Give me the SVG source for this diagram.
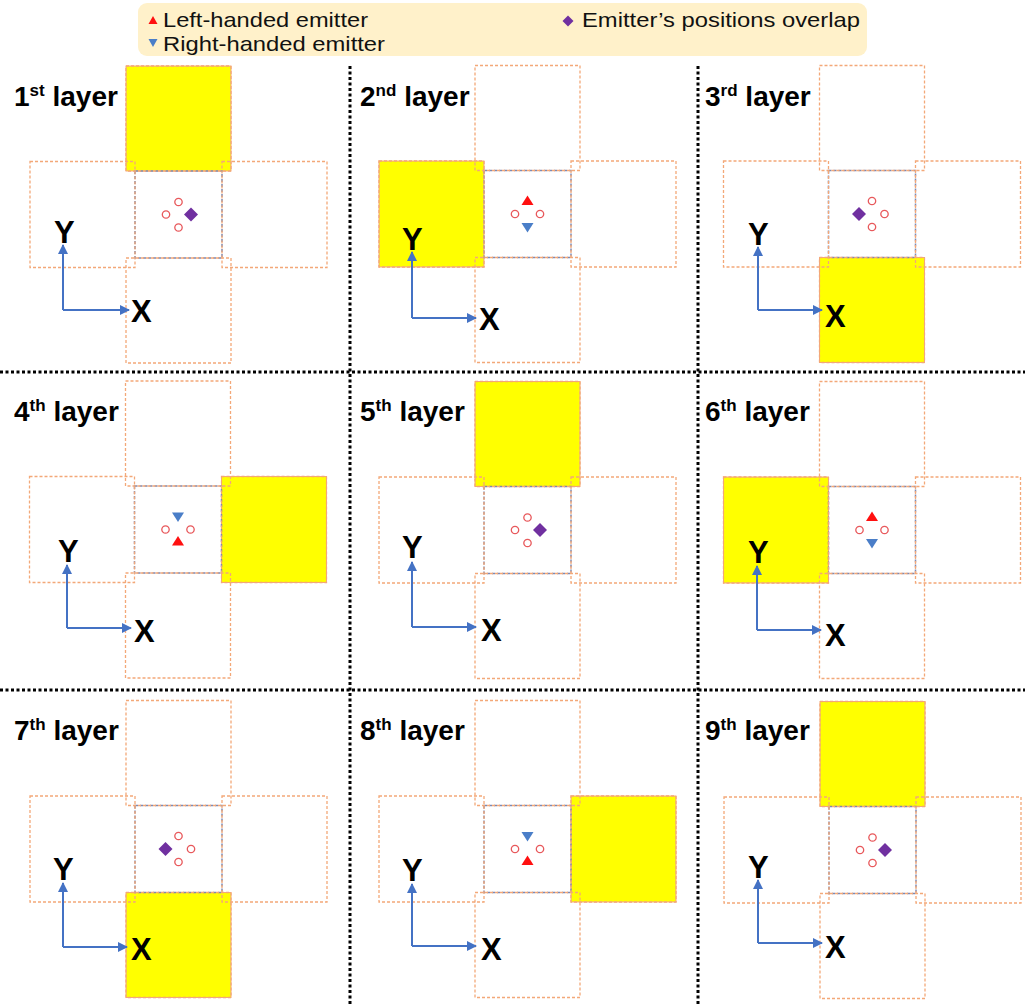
<svg xmlns="http://www.w3.org/2000/svg" xmlns:xlink="http://www.w3.org/1999/xlink" width="1025" height="1005" viewBox="0 0 1025 1005">
<style>
.bx{fill:none;stroke:#F3A878;stroke-width:1.3;stroke-dasharray:3 2}
.cb{fill:none;stroke:#8089B0;stroke-width:1.5;stroke-dasharray:3 2}
.yl{fill:#FFFF00;stroke:#F3A878;stroke-width:1}
.ax{fill:none;stroke:#4472C4;stroke-width:2}
.axl{font-family:"Liberation Sans",Arial,sans-serif;font-weight:bold;font-size:31px;fill:#000}
.lbl{font-family:"Liberation Sans",Arial,sans-serif;font-weight:bold;font-size:28px;fill:#000}
.sup{font-size:17px}
.leg{font-family:"Liberation Sans",Arial,sans-serif;font-size:21px;fill:#111}
.div{stroke:#000;stroke-width:3;stroke-dasharray:3 2.5;fill:none}
</style>
<defs>
<marker id="ah" viewBox="0 0 10 10" refX="9" refY="5" markerWidth="5" markerHeight="5" orient="auto" markerUnits="strokeWidth">
<path d="M0,0 L10,5 L0,10 Z" fill="#4472C4"/>
</marker>
<path id="up" d="M0,-5.5 L6,4 L-6,4 Z" fill="#FF1010"/>
<path id="down" d="M-6,-4 L6,-4 L0,5.5 Z" fill="#4A7EC8"/>
<path id="dia" d="M0,-7 L7,0 L0,7 L-7,0 Z" fill="#7030A0"/>
<circle id="ring" r="3.7" fill="#FFFFFF" stroke="#E8595C" stroke-width="1.3"/>
<g id="frame">
<rect class="cb" x="-43.5" y="-43.5" width="87" height="87"/>
<rect class="bx" x="-52.5" y="-148.5" width="105" height="105"/>
<rect class="bx" x="-52.5" y="43.5" width="105" height="105"/>
<rect class="bx" x="-148.5" y="-53" width="105" height="106"/>
<rect class="bx" x="43.5" y="-53" width="105" height="106"/>
</g>
<g id="eA">
<use xlink:href="#ring" x="0" y="-12.5"/><use xlink:href="#ring" x="-12.5" y="0"/><use xlink:href="#ring" x="0" y="13"/><use xlink:href="#dia" x="12.5" y="0"/>
</g>
<g id="eB">
<use xlink:href="#up" x="0" y="-13"/><use xlink:href="#ring" x="-12.5" y="0"/><use xlink:href="#ring" x="12.5" y="0"/><use xlink:href="#down" x="0" y="13"/>
</g>
<g id="eC">
<use xlink:href="#ring" x="0" y="-13"/><use xlink:href="#dia" x="-13" y="0"/><use xlink:href="#ring" x="12.5" y="0"/><use xlink:href="#ring" x="0" y="13"/>
</g>
<g id="eD">
<use xlink:href="#down" x="0" y="-13"/><use xlink:href="#ring" x="-12.5" y="0"/><use xlink:href="#ring" x="12.5" y="0"/><use xlink:href="#up" x="0" y="12"/>
</g>
</defs>
<rect width="1025" height="1005" fill="#FFFFFF"/>

<g id="legend">
<rect x="138" y="3" width="729" height="53" rx="9" fill="#FFF1CA"/>
<path d="M153,16 L157.5,24 L148.5,24 Z" fill="#FF1010"/>
<text class="leg" x="163" y="26.5" textLength="205" lengthAdjust="spacingAndGlyphs">Left-handed emitter</text>
<path d="M148.5,39 L157.5,39 L153,47 Z" fill="#4A7EC8"/>
<text class="leg" x="163" y="50.5" textLength="222" lengthAdjust="spacingAndGlyphs">Right-handed emitter</text>
<path d="M568,15.5 L573.5,21 L568,26.5 L562.5,21 Z" fill="#7030A0"/>
<text class="leg" x="582" y="26.5" textLength="278" lengthAdjust="spacingAndGlyphs">Emitter’s positions overlap</text>
</g>

<g id="dividers">
<line class="div" x1="350" y1="66" x2="350" y2="1005"/>
<line class="div" x1="698" y1="66" x2="698" y2="1005"/>
<line class="div" x1="0" y1="372" x2="1025" y2="372"/>
<line class="div" x1="0" y1="690" x2="1025" y2="690"/>
</g>

<g id="panel1">
<g transform="translate(178.5,214.5)"><rect class="yl" x="-52.5" y="-148.5" width="105" height="105"/><use xlink:href="#frame"/><use xlink:href="#eA"/></g>
<text class="lbl" x="14" y="106">1<tspan class="sup" dy="-10">st</tspan><tspan dy="10"> layer</tspan></text>
</g>
<g id="panel2">
<g transform="translate(527.5,214)"><rect class="yl" x="-148.5" y="-53" width="105" height="106"/><use xlink:href="#frame"/><use xlink:href="#eB"/></g>
<text class="lbl" x="360" y="106">2<tspan class="sup" dy="-10">nd</tspan><tspan dy="10"> layer</tspan></text>
</g>
<g id="panel3">
<g transform="translate(872,214)"><rect class="yl" x="-52.5" y="43.5" width="105" height="105"/><use xlink:href="#frame"/><use xlink:href="#eC"/></g>
<text class="lbl" x="705" y="106">3<tspan class="sup" dy="-10">rd</tspan><tspan dy="10"> layer</tspan></text>
</g>
<g id="panel4">
<g transform="translate(178,529.5)"><rect class="yl" x="43.5" y="-53" width="105" height="106"/><use xlink:href="#frame"/><use xlink:href="#eD"/></g>
<text class="lbl" x="14" y="421">4<tspan class="sup" dy="-10">th</tspan><tspan dy="10"> layer</tspan></text>
</g>
<g id="panel5">
<g transform="translate(527.5,530)"><rect class="yl" x="-52.5" y="-148.5" width="105" height="105"/><use xlink:href="#frame"/><use xlink:href="#eA"/></g>
<text class="lbl" x="360" y="421">5<tspan class="sup" dy="-10">th</tspan><tspan dy="10"> layer</tspan></text>
</g>
<g id="panel6">
<g transform="translate(872,530)"><rect class="yl" x="-148.5" y="-53" width="105" height="106"/><use xlink:href="#frame"/><use xlink:href="#eB"/></g>
<text class="lbl" x="705" y="421">6<tspan class="sup" dy="-10">th</tspan><tspan dy="10"> layer</tspan></text>
</g>
<g id="panel7">
<g transform="translate(178.5,849)"><rect class="yl" x="-52.5" y="43.5" width="105" height="105"/><use xlink:href="#frame"/><use xlink:href="#eC"/></g>
<text class="lbl" x="14" y="740">7<tspan class="sup" dy="-10">th</tspan><tspan dy="10"> layer</tspan></text>
</g>
<g id="panel8">
<g transform="translate(527.5,849)"><rect class="yl" x="43.5" y="-53" width="105" height="106"/><use xlink:href="#frame"/><use xlink:href="#eD"/></g>
<text class="lbl" x="360" y="740">8<tspan class="sup" dy="-10">th</tspan><tspan dy="10"> layer</tspan></text>
</g>
<g id="panel9">
<g transform="translate(872.5,850)"><rect class="yl" x="-52.5" y="-148.5" width="105" height="105"/><use xlink:href="#frame"/><use xlink:href="#eA"/></g>
<text class="lbl" x="705" y="740">9<tspan class="sup" dy="-10">th</tspan><tspan dy="10"> layer</tspan></text>
</g>

<g id="axes">
<path class="ax" d="M63,310 L63,245" marker-end="url(#ah)"/><path class="ax" d="M63,310 L129,310" marker-end="url(#ah)"/>
<text class="axl" x="54" y="243">Y</text><text class="axl" x="131" y="322">X</text>
<path class="ax" d="M412,318 L412,252" marker-end="url(#ah)"/><path class="ax" d="M412,318 L476,318" marker-end="url(#ah)"/>
<text class="axl" x="402" y="250">Y</text><text class="axl" x="479" y="330">X</text>
<path class="ax" d="M758,310 L758,247" marker-end="url(#ah)"/><path class="ax" d="M758,310 L822,310" marker-end="url(#ah)"/>
<text class="axl" x="748" y="245">Y</text><text class="axl" x="825" y="327">X</text>
<path class="ax" d="M67,628 L67,565" marker-end="url(#ah)"/><path class="ax" d="M67,628 L131,628" marker-end="url(#ah)"/>
<text class="axl" x="58" y="562">Y</text><text class="axl" x="134" y="642">X</text>
<path class="ax" d="M412,627 L412,562" marker-end="url(#ah)"/><path class="ax" d="M412,627 L476,627" marker-end="url(#ah)"/>
<text class="axl" x="402" y="558">Y</text><text class="axl" x="481" y="641">X</text>
<path class="ax" d="M757,630 L757,566" marker-end="url(#ah)"/><path class="ax" d="M757,630 L821,630" marker-end="url(#ah)"/>
<text class="axl" x="748" y="563">Y</text><text class="axl" x="825" y="646">X</text>
<path class="ax" d="M63,947 L63,883" marker-end="url(#ah)"/><path class="ax" d="M63,947 L127,947" marker-end="url(#ah)"/>
<text class="axl" x="53" y="880">Y</text><text class="axl" x="131" y="960">X</text>
<path class="ax" d="M412,946 L412,884" marker-end="url(#ah)"/><path class="ax" d="M412,946 L476,946" marker-end="url(#ah)"/>
<text class="axl" x="402" y="881">Y</text><text class="axl" x="481" y="960">X</text>
<path class="ax" d="M758,943 L758,880" marker-end="url(#ah)"/><path class="ax" d="M758,943 L822,943" marker-end="url(#ah)"/>
<text class="axl" x="748" y="878">Y</text><text class="axl" x="825" y="958">X</text>
</g>
</svg>
